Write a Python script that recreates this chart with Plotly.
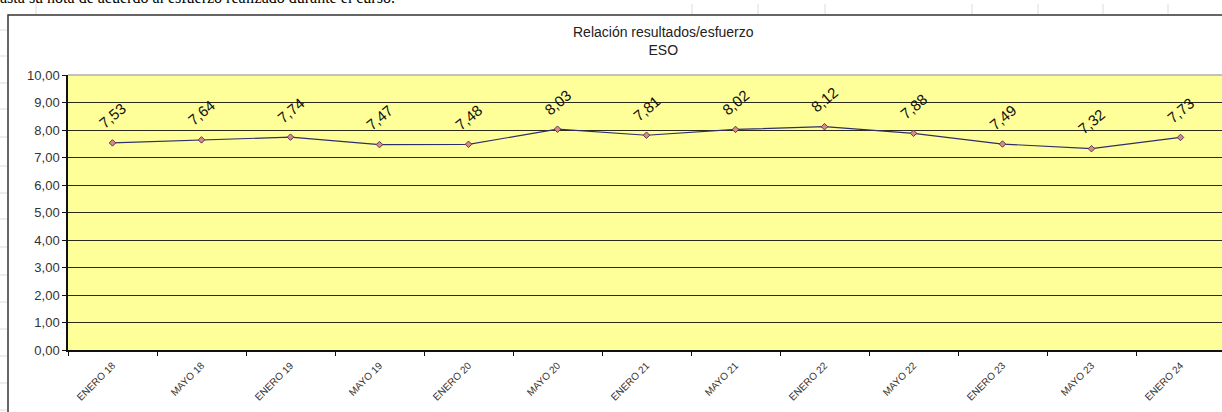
import plotly.graph_objects as go

categories = ["ENERO 18", "MAYO 18", "ENERO 19", "MAYO 19", "ENERO 20", "MAYO 20",
              "ENERO 21", "MAYO 21", "ENERO 22", "MAYO 22", "ENERO 23", "MAYO 23", "ENERO 24"]
values = [7.53, 7.64, 7.74, 7.47, 7.48, 8.03, 7.81, 8.02, 8.12, 7.88, 7.49, 7.32, 7.73]
y_ticks = [0, 1, 2, 3, 4, 5, 6, 7, 8, 9, 10]

W, H = 1222, 412
L, R, T, B = 68, 0, 75, 62
PW, PH = W - L - R, H - T - B

def px_x(px):
    return (px - L) / PW

def px_y(py):
    return 1 - (py - T) / PH

fig = go.Figure()
fig.add_trace(go.Scatter(
    x=categories, y=values, mode="lines+markers",
    line=dict(color="#2e2e6a", width=1.2),
    marker=dict(symbol="diamond", size=5, color="#d88a8a",
                line=dict(color="#5a3a5a", width=1)),
    hoverinfo="skip", showlegend=False,
))

annotations = []
for c, v in zip(categories, values):
    annotations.append(dict(
        x=c, y=v, xref="x", yref="y", text=f"{v:.2f}".replace(".", ","),
        showarrow=False, textangle=-40, yshift=27,
        font=dict(family="Liberation Sans, Arial", size=15, color="#111"),
    ))

# chart title
annotations.append(dict(
    x=px_x(663), y=px_y(41), xref="paper", yref="paper",
    text="Relación resultados/esfuerzo<br>ESO", showarrow=False,
    xanchor="center", yanchor="middle", align="center",
    font=dict(family="Liberation Sans, Arial", size=14, color="#222"),
))
# cut-off document text at the very top
annotations.append(dict(
    x=px_x(-2), y=px_y(8), xref="paper", yref="paper",
    text="asta su nota de acuerdo al esfuerzo realizado durante el curso.",
    showarrow=False, xanchor="left", yanchor="bottom",
    font=dict(family="Liberation Serif, Times New Roman", size=16, color="#000"),
))

shapes = []
# faint spreadsheet grid behind the chart
for py in [30, 56, 83, 109, 137, 166, 193, 219, 247, 275, 302, 329, 356, 383, 410]:
    shapes.append(dict(type="line", xref="paper", yref="paper",
                       x0=px_x(0), x1=px_x(7), y0=px_y(py), y1=px_y(py),
                       line=dict(color="#dcdcdc", width=1), layer="below"))
for px in [36, 692, 758, 825, 972, 1038, 1103, 1168]:
    shapes.append(dict(type="line", xref="paper", yref="paper",
                       x0=px_x(px), x1=px_x(px), y0=px_y(4), y1=px_y(14),
                       line=dict(color="#dcdcdc", width=1), layer="below"))
# chart outer border
shapes.append(dict(type="rect", xref="paper", yref="paper",
                   x0=px_x(8), x1=px_x(1240), y0=px_y(15), y1=px_y(430),
                   line=dict(color="#333", width=1.5), fillcolor="rgba(0,0,0,0)",
                   layer="below"))
# top border of plot area (grey)
shapes.append(dict(type="line", xref="paper", yref="paper",
                   x0=0, x1=1, y0=1, y1=1,
                   line=dict(color="#8a8a8a", width=1.2), layer="above"))

fig.update_layout(
    width=W, height=H,
    margin=dict(l=L, r=R, t=T, b=B),
    paper_bgcolor="white",
    plot_bgcolor="#FFFF99",
    separators=",.",
    annotations=annotations,
    shapes=shapes,
    xaxis=dict(
        type="category", range=[-0.5, -0.5 + PW / 89.0],
        tickson="boundaries", ticks="outside", ticklen=4, tickcolor="#111",
        tickangle=-45, showgrid=False, showline=True, linecolor="#111", linewidth=1.5,
        tickfont=dict(family="Liberation Sans, Arial", size=10, color="#333"),
        ticklabelstandoff=4,
        zeroline=False,
    ),
    yaxis=dict(
        range=[0, 10], tickvals=y_ticks, tickformat=".2f",
        ticks="outside", ticklen=4, tickcolor="#111",
        showgrid=True, gridcolor="#2a2a1a", gridwidth=1,
        showline=True, linecolor="#111", linewidth=1.5, zeroline=False,
        tickfont=dict(family="Liberation Sans, Arial", size=13, color="#333"),
    ),
)

fig.write_html(
    "out.html",
    config={"displayModeBar": False},
    post_script="document.body.style.margin='0';document.body.style.overflow='hidden';",
)
